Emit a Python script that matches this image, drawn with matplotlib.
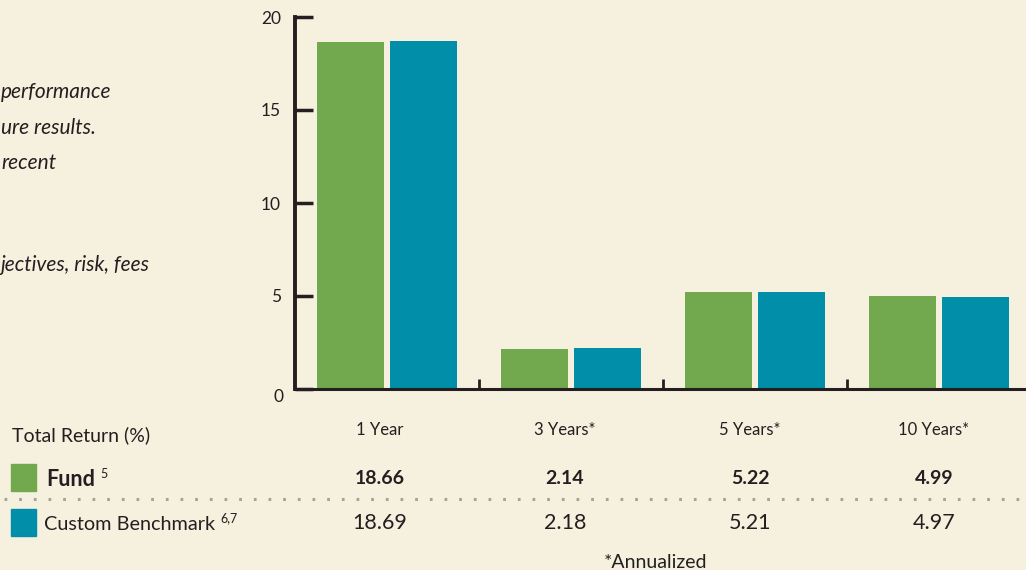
import matplotlib
matplotlib.use("Agg")
import matplotlib.pyplot as plt
from matplotlib.patches import Rectangle
from matplotlib.lines import Line2D

categories = ["1 Year", "3 Years*", "5 Years*", "10 Years*"]
fund = [18.66, 2.14, 5.22, 4.99]
benchmark = [18.69, 2.18, 5.21, 4.97]
fund_labels = ["18.66", "2.14", "5.22", "4.99"]
bench_labels = ["18.69", "2.18", "5.21", "4.97"]
yticks = [0, 5, 10, 15, 20]
side_text = ["performance", "ure results.", "recent", "jectives, risk, fees"]

BG = "#F6F0DF"
GREEN = "#72A84E"
TEAL = "#008EA9"
DARK = "#231F20"
FONT = ["Lato", "DejaVu Sans"]
plt.rcParams["font.family"] = FONT

W, H = 1026, 570
fig = plt.figure(figsize=(W / 100, H / 100), dpi=100, facecolor=BG)

def fx(px):
    return px / W

def fy(py):
    return 1 - py / H

# axes: x from 295 to 1031 px, y from 17 (20) to 389 (0)
ax = fig.add_axes([fx(295), fy(389), fx(1031) - fx(295), (389 - 17) / H])
ax.set_facecolor(BG)
ax.set_xlim(-0.5, 3.5)
ax.set_ylim(0, 20)

bw = 0.364
off = 0.201
xs = list(range(len(categories)))
ax.bar([x - off for x in xs], fund, width=bw, color=GREEN, zorder=2)
ax.bar([x + off for x in xs], benchmark, width=bw, color=TEAL, zorder=2)

for s in ["top", "right"]:
    ax.spines[s].set_visible(False)
ax.spines["left"].set_linewidth(2.8)
ax.spines["left"].set_color(DARK)
ax.spines["bottom"].set_linewidth(2.2)
ax.spines["bottom"].set_color(DARK)

ax.set_yticks(yticks)
ax.set_yticklabels(["" if t == 0 else str(t) for t in yticks])
ax.tick_params(axis="y", direction="in", length=13, width=2.5, color=DARK,
               labelsize=12.5, labelcolor=DARK, pad=10)
# zero label sits slightly below the baseline in the reference
fig.text(fx(284), fy(397), str(yticks[0]), fontsize=12.5, color=DARK,
         ha="right", va="center")
# bottom separators
ax.set_xticks([0.5, 1.5, 2.5])
ax.set_xticklabels([])
ax.tick_params(axis="x", direction="in", length=7, width=2, color=DARK)

# left cut-off paragraph fragments
side_y = [92, 128, 163, 265]
for t, py in zip(side_text, side_y):
    fig.text(fx(1), fy(py), t, fontsize=15, style="italic", color=DARK,
             ha="left", va="center")

# table
col_x = [380, 565, 750, 934]
fig.text(fx(12), fy(435), "Total Return (%)", fontsize=14, color=DARK,
         ha="left", va="center")
for c, cx in zip(categories, col_x):
    fig.text(fx(cx), fy(430), c, fontsize=12, color=DARK, ha="center", va="center")
for v, cx in zip(fund_labels, col_x):
    fig.text(fx(cx), fy(478), v, fontsize=14, fontweight="bold", color=DARK,
             ha="center", va="center")
for v, cx in zip(bench_labels, col_x):
    fig.text(fx(cx), fy(523), v, fontsize=15.5, color=DARK, ha="center", va="center")

# legend squares
fig.add_artist(Rectangle((fx(11), fy(491)), fx(25), 27 / H, color=GREEN,
                         transform=fig.transFigure))
fig.add_artist(Rectangle((fx(11), fy(536)), fx(25), 27 / H, color=TEAL,
                         transform=fig.transFigure))
fig.text(fx(46), fy(479), "Fund", fontsize=15.5, fontweight="bold", color=DARK,
         ha="left", va="center")
fig.text(fx(100), fy(474), "5", fontsize=9, color=DARK, ha="left", va="center")
fig.text(fx(44), fy(524), "Custom Benchmark", fontsize=14.3, color=DARK,
         ha="left", va="center")
fig.text(fx(220), fy(518), "6,7", fontsize=9, color=DARK, ha="left", va="center")

# dotted separator
fig.add_artist(Line2D([fx(4), 1.0], [fy(499), fy(499)], transform=fig.transFigure,
                      color="#A7A39A", linewidth=2.2, linestyle=(0, (0.9, 3.9)),
                      dash_capstyle="butt"))

fig.text(fx(656), fy(562), "*Annualized", fontsize=14, color=DARK,
         ha="center", va="center")

fig.savefig("out.png", dpi=100, facecolor=BG)
